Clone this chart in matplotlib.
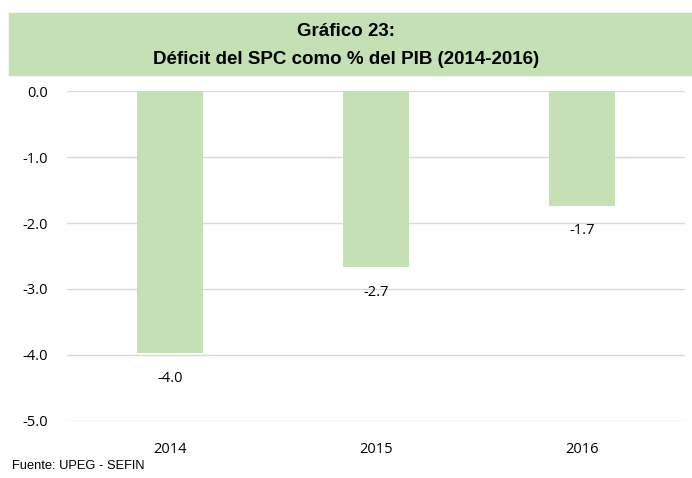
import matplotlib.pyplot as plt
from matplotlib.patches import Rectangle

# data
years = ['2014', '2015', '2016']
deficit = [-3.97, -2.67, -1.74]
labels = ['-4.0', '-2.7', '-1.7']
yticks = [0, -1, -2, -3, -4, -5]

green = '#C5E0B4'
title_font = 'Liberation Sans'
body = 'Open Sans'

fig = plt.figure(figsize=(6.92, 4.78), dpi=100)
ax = fig.add_axes([67 / 692, 1 - 421 / 478, 618 / 692, 330 / 478])

x = range(len(years))
ax.bar(x, deficit, width=0.32, color=green, zorder=2)

for xi, v, lab in zip(x, deficit, labels):  # value labels under bars
    ax.annotate(lab, (xi, v), xytext=(0, -18), textcoords='offset points',
                ha='center', va='center', fontsize=10.5, family=body)

ax.set_xlim(-0.5, 2.5)
ax.set_ylim(-5, 0)
ax.set_yticks(yticks)
ax.set_yticklabels(['%.1f' % t for t in yticks], family=body, fontsize=10.5)
ax.set_xticks(list(x))
ax.set_xticklabels(years, family=body, fontsize=10.5)
ax.tick_params(axis='x', length=0, pad=15)
ax.tick_params(axis='y', length=0, pad=14)
ax.grid(axis='y', color='#D9D9D9', linewidth=1, zorder=0)
for s in ax.spines.values():
    s.set_visible(False)

# title box
fig.patches.append(Rectangle((9 / 692, 1 - 75 / 478), 683 / 692, 62 / 478,
                             transform=fig.transFigure, color=green, zorder=0))
fig.text(0.5, 1 - 32 / 478, 'Gráfico 23:', ha='center', va='center',
         fontsize=13.5, fontweight='bold', family=title_font)
fig.text(0.5, 1 - 60 / 478, 'Déficit del SPC como % del PIB (2014-2016)', ha='center',
         va='center', fontsize=13.5, fontweight='bold', family=title_font)

fig.text(12 / 692, 1 - 466 / 478, 'Fuente: UPEG - SEFIN', ha='left', va='center',
         fontsize=9.3, family=title_font)

fig.savefig('out.png', dpi=100)
